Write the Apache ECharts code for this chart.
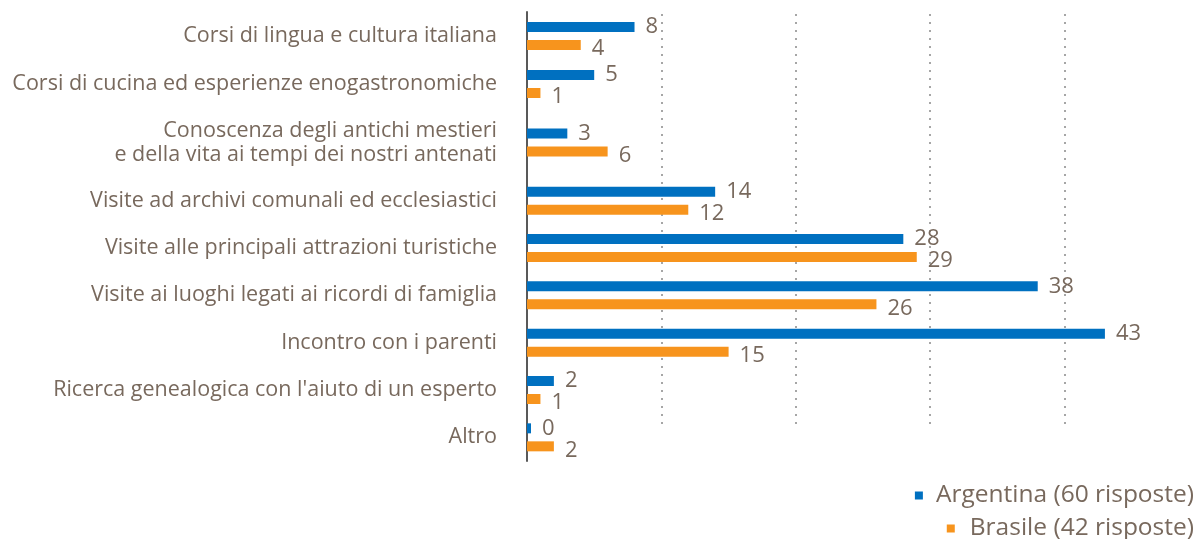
<!DOCTYPE html>
<html>
<head>
<meta charset="utf-8">
<script src="https://cdn.jsdelivr.net/npm/echarts@6/dist/echarts.min.js"></script>
<style>
  html, body { margin: 0; padding: 0; background: #fff; }
  #myChart { width: 1202px; height: 539px; }
</style>
</head>
<body>
<div id="myChart"></div>
<script>
// categories, top to bottom
let categories = [
  "Corsi di lingua e cultura italiana",
  "Corsi di cucina ed esperienze enogastronomiche",
  "Conoscenza degli antichi mestieri\ne della vita ai tempi dei nostri antenati",
  "Visite ad archivi comunali ed ecclesiastici",
  "Visite alle principali attrazioni turistiche",
  "Visite ai luoghi legati ai ricordi di famiglia",
  "Incontro con i parenti",
  "Ricerca genealogica con l'aiuto di un esperto",
  "Altro"
];
let argentina = [8, 5, 3, 14, 28, 38, 43, 2, 0];
let brasile = [4, 1, 6, 12, 29, 26, 15, 1, 2];
let seriesNames = ["Argentina (60 risposte)", "Brasile (42 risposte)"];

let textColor = "#78695d",
  font = "Open Sans";

let myChart = echarts.init(document.getElementById("myChart"));

// the two-line row is taller than the others, so the rows are split over three grids
let rowGroups = [
  { from: 0, to: 2, top: 12, height: 96 },
  { from: 2, to: 3, top: 108, height: 69 },
  { from: 3, to: 9, top: 177, height: 284 }
];

let valueLabel = function(dy) {
  return {
    show: true,
    position: "right",
    distance: 11,
    offset: [0, dy],
    color: textColor,
    fontFamily: font,
    fontSize: 22
  };
};

let legendItem = function(name, top, padLeft) {
  return {
    data: [name],
    right: 3,
    top: top,
    icon: "rect",
    itemWidth: 8,
    itemHeight: 8,
    textStyle: { color: textColor, fontSize: 24.5, fontFamily: font, padding: [0, 0, 0, padLeft] }
  };
};

let grids = [],
  xAxes = [],
  yAxes = [],
  series = [];

rowGroups.forEach(function(g, i) {
  grids.push({ left: 527, right: 3, top: g.top, height: g.height });
  xAxes.push({
    type: "value",
    gridIndex: i,
    min: 0,
    max: 50,
    interval: 10,
    axisLabel: { show: false },
    axisLine: { show: false },
    axisTick: { show: false },
    splitLine: { show: false }
  });
  yAxes.push({
    type: "category",
    gridIndex: i,
    data: categories.slice(g.from, g.to),
    inverse: true,
    axisLine: { show: true, lineStyle: { color: "#595959", width: 2 } },
    axisTick: { show: false },
    axisLabel: {
      color: textColor,
      fontFamily: font,
      fontSize: 21.5,
      lineHeight: 24,
      margin: 30,
      align: "right"
    }
  });
  [argentina, brasile].forEach(function(values, k) {
    series.push({
      name: seriesNames[k],
      type: "bar",
      xAxisIndex: i,
      yAxisIndex: i,
      data: values.slice(g.from, g.to),
      barWidth: 10,
      barGap: "80%",
      barMinHeight: 4,
      label: valueLabel(k === 0 ? 0 : 4)
    });
  });
});

// extra grid only for the dotted gridlines, which stop short of the last row
let gi = rowGroups.length;
grids.push({ left: 527, right: 3, top: 14, bottom: 114 });
xAxes.push({
  type: "value",
  gridIndex: gi,
  min: 0,
  max: 50,
  interval: 10,
  axisLabel: { show: false },
  axisLine: { show: false },
  axisTick: { show: false },
  splitLine: {
    show: true,
    showMinLine: false,
    showMaxLine: false,
    lineStyle: { color: "#a6a6a6", width: 2, type: [2, 6] }
  }
});
yAxes.push({ type: "value", gridIndex: gi, show: false });

const options = {
  animation: false,
  color: ["#0070c0", "#f7941d"],
  textStyle: { fontFamily: font },
  legend: [
    legendItem(seriesNames[0], 478, 8),
    legendItem(seriesNames[1], 511, 10)
  ],
  grid: grids,
  xAxis: xAxes,
  yAxis: yAxes,
  series: series
};

myChart.setOption(options);
</script>
</body>
</html>
